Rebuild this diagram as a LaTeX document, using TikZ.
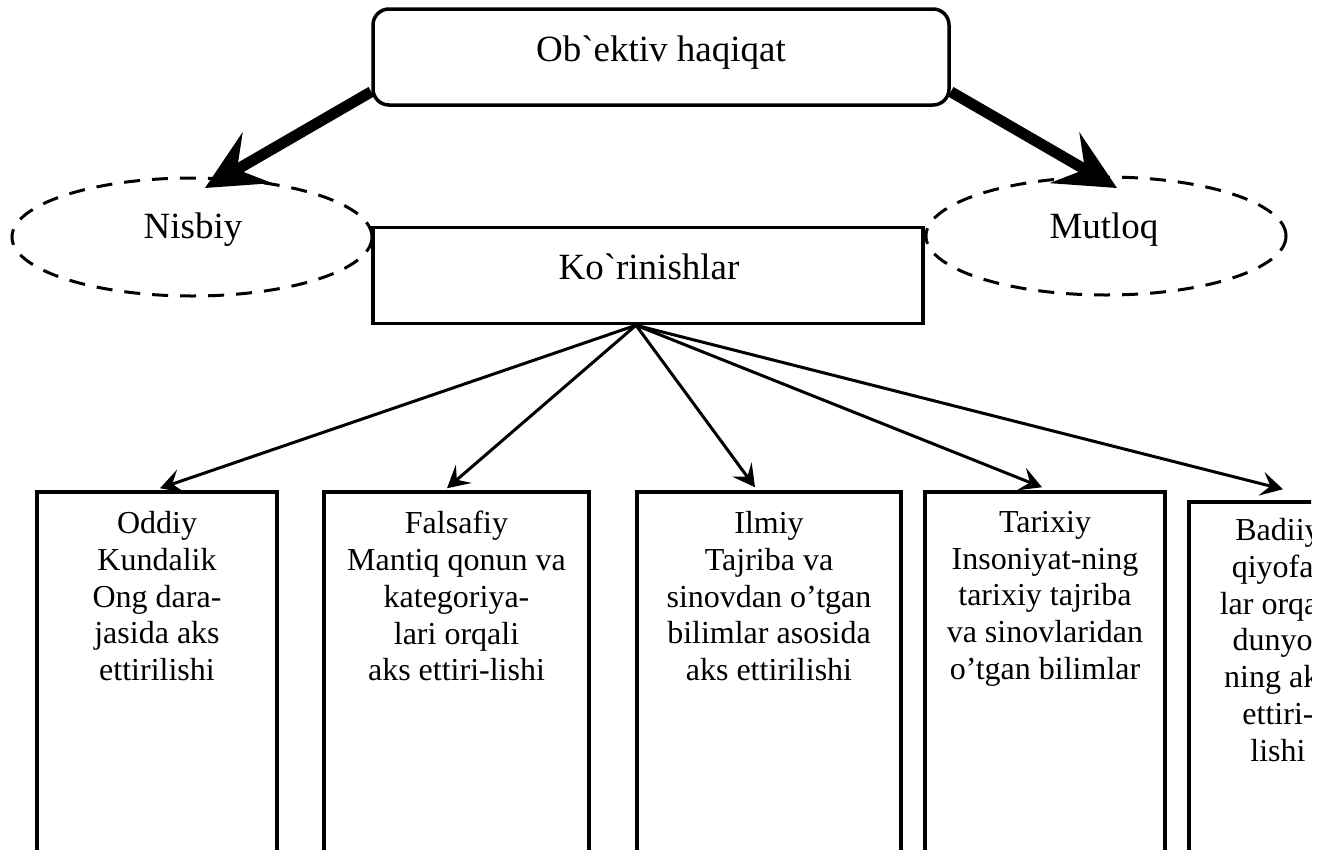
\documentclass[tikz,border=0pt]{standalone}
\usepackage{fontspec}
\setmainfont{Liberation Serif}
\usetikzlibrary{arrows.meta,calc,shapes.geometric}
\begin{document}
\begin{tikzpicture}[x=1pt,y=-1pt,
  bigtxt/.style={font=\fontsize{37}{42}\selectfont, inner sep=0pt, anchor=base},
  smalltxt/.style={font=\fontsize{32}{36.8}\selectfont, inner sep=0pt, anchor=north, align=center},
  topbox/.style={draw, line width=3.5pt, rounded corners=16pt, minimum width=576pt, minimum height=96pt, inner sep=0pt, fill=white},
  ovalbox/.style={ellipse, draw, dash pattern=on 16pt off 12pt, line width=3pt, minimum width=360pt, minimum height=118pt, inner sep=0pt},
  plainbox/.style={draw, line width=3.5pt, inner sep=0pt, fill=white},
  heavyarrow/.style={line width=11pt, -{Stealth[length=60pt,width=58pt,inset=23pt]}},
  thinarrow/.style={line width=3pt, -{Stealth[length=22pt,width=24pt,inset=9pt]}},
]
\useasboundingbox (0,0) rectangle (1325,849);
\begin{scope}
\clip (0,0) rectangle (1311,849);
% top box
\node[topbox] (top) at (661,57) {};
\node[bigtxt] (toptxt) at (661,61) {Ob\textasciigrave ektiv haqiqat};
% ellipses
\node[ovalbox] (nisbiy) at (192,237) {};
\node[bigtxt] (nisbiytxt) at (193,238) {Nisbiy};
\node[ovalbox] (mutloq) at (1106,236) {};
\node[bigtxt] (mutloqtxt) at (1104,238) {Mutloq};
% middle box
\node[plainbox, minimum width=550pt, minimum height=96pt] (kor) at (648,275.5) {};
\node[bigtxt] (kortxt) at (649,279) {Ko\textasciigrave rinishlar};
% bottom boxes
\node[plainbox, minimum width=240pt, minimum height=408pt] (oddiy) at (157,696) {};
\node[plainbox, minimum width=265pt, minimum height=408pt] (falsafiy) at (456.5,696) {};
\node[plainbox, minimum width=264pt, minimum height=408pt] (ilmiy) at (769,696) {};
\node[plainbox, minimum width=240pt, minimum height=408pt] (tarixiy) at (1045,696) {};
\node[plainbox, minimum width=178pt, minimum height=408pt] (badiiy) at (1278,706) {};
\node[smalltxt] (oddiytxt) at (157,511) {Oddiy\\Kundalik\\Ong dara-\\jasida aks\\ettirilishi};
\node[smalltxt] (falsafiytxt) at (456.5,511) {Falsafiy\\Mantiq qonun va\\kategoriya-\\lari orqali\\aks ettiri-lishi};
\node[smalltxt] (ilmiytxt) at (769,511) {Ilmiy\\Tajriba va\\sinovdan o’tgan\\bilimlar asosida\\aks ettirilishi};
\node[smalltxt] (tarixiytxt) at (1045,511) {Tarixiy\\Insoniyat-ning\\tarixiy tajriba\\va sinovlaridan\\o’tgan bilimlar};
\node[smalltxt] (badiiytxt) at (1278,518) {Badiiy\\qiyofa-\\lar orqali\\dunyo-\\ning aks\\ettiri-\\lishi};
% heavy arrows
\draw[heavyarrow] ($(top.south west)+(0,-15)$) -- ($(nisbiy.center)+(13,-49)$);
\draw[heavyarrow] ($(top.south east)+(0,-15)$) -- ($(mutloq.center)+(11,-48)$);
% thin arrows
\coordinate (src) at ($(kor.south)+(-12,0)$);
\draw[thinarrow] (src) -- ($(oddiy.north)+(3,-2)$);
\draw[thinarrow] (src) -- ($(falsafiy.north)+(-9.5,-2)$);
\draw[thinarrow] (src) -- ($(ilmiy.north)+(-14,-3)$);
\draw[thinarrow] (src) -- ($(tarixiy.north)+(-3,-3)$);
\draw[thinarrow] (src) -- ($(badiiy.north)+(5,-11)$);
\end{scope}
\end{tikzpicture}
\end{document}
